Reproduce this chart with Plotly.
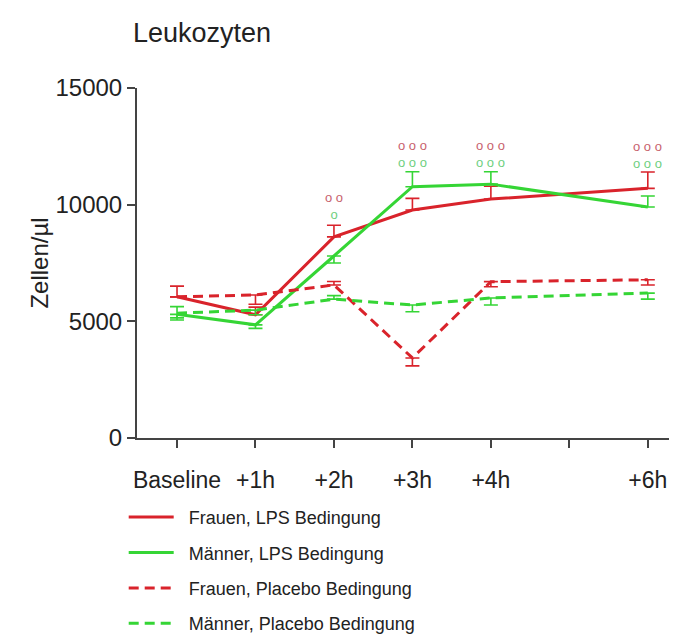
import plotly.graph_objects as go

# ---- data ----
hours = [0, 1, 2, 3, 4, 6]
tick_vals = [0, 1, 2, 3, 4, 5, 6]
tick_text = ["Baseline", "+1h", "+2h", "+3h", "+4h", "", "+6h"]

frauen_lps = [6050, 5280, 8620, 9770, 10240, 10700]
frauen_lps_up = [460, 330, 500, 500, 550, 700]
frauen_lps_dn = [0, 0, 0, 0, 0, 0]

maenner_lps = [5300, 4850, 7800, 10770, 10880, 9900]
maenner_lps_up = [0, 0, 0, 640, 530, 470]
maenner_lps_dn = [240, 150, 300, 0, 0, 0]

frauen_pla = [6050, 6130, 6560, 3430, 6700, 6780]
frauen_pla_up = [0, 0, 150, 0, 0, 0]
frauen_pla_dn = [0, 400, 0, 340, 220, 220]

maenner_pla = [5350, 5480, 5950, 5700, 6000, 6210]
maenner_pla_up = [280, 0, 150, 0, 0, 0]
maenner_pla_dn = [200, 200, 0, 290, 300, 260]

names = ["Frauen, LPS Bedingung", "Männer, LPS Bedingung",
         "Frauen, Placebo Bedingung", "Männer, Placebo Bedingung"]

# significance labels (Frauen row above, Männer row below)
sig_x = [2, 3, 4, 6]
sig_y = [9930, 12170, 12170, 12120]
sig_frauen = ["o o", "o o o", "o o o", "o o o"]
sig_maenner = ["o", "o o o", "o o o", "o o o"]

RED = "#d9232b"
GREEN = "#35d535"
SIG_RED = "#c8626e"
SIG_GREEN = "#6fcf7f"
FONT = "Liberation Sans, Arial, sans-serif"

series = [
    (frauen_lps, frauen_lps_up, frauen_lps_dn, RED, "solid"),
    (maenner_lps, maenner_lps_up, maenner_lps_dn, GREEN, "solid"),
    (frauen_pla, frauen_pla_up, frauen_pla_dn, RED, "10px,6px"),
    (maenner_pla, maenner_pla_up, maenner_pla_dn, GREEN, "10px,6px"),
]

fig = go.Figure()
for i, (vals, up, dn, col, dash) in enumerate(series):
    fig.add_trace(go.Scatter(
        x=hours, y=vals, mode="lines", name="&nbsp;&nbsp;" + names[i],
        legendgroup=f"g{i}",
        line=dict(color=col, width=3, dash=dash),
        error_y=dict(type="data", symmetric=False, array=up, arrayminus=dn,
                     color=col, thickness=1.6, width=7),
    ))

for x, y, tf, tm in zip(sig_x, sig_y, sig_frauen, sig_maenner):
    txt = (f"<span style='color:{SIG_RED}'>{tf}</span><br>"
           f"<span style='color:{SIG_GREEN}'>{tm}</span>")
    fig.add_annotation(x=x, y=y, text=txt, showarrow=False, xref="x", yref="y",
                       font=dict(family=FONT, size=13))

fig.update_layout(
    width=686, height=638,
    paper_bgcolor="white", plot_bgcolor="white",
    margin=dict(l=137, r=17, t=88, b=200, autoexpand=False),
    font=dict(family=FONT, color="#222"),
    title=dict(text="Leukozyten", xref="container", yref="container",
               x=133 / 686, xanchor="left", y=1 - 33 / 638, yanchor="middle",
               font=dict(size=27, color="#222", family=FONT)),
    showlegend=True,
    legend=dict(x=-0.025, xanchor="left", y=-0.174, yanchor="top",
                font=dict(size=18, color="#222", family=FONT),
                tracegroupgap=9, itemwidth=45, bgcolor="rgba(0,0,0,0)"),
)

fig.update_xaxes(range=[-0.51, 6.27], tickmode="array", tickvals=tick_vals,
                 ticktext=tick_text, showgrid=False, zeroline=False,
                 showline=True, linecolor="#444", linewidth=2,
                 ticks="outside", ticklen=8, tickwidth=2, tickcolor="#444",
                 ticklabelstandoff=12,
                 tickfont=dict(size=23, color="#222", family=FONT))
fig.update_yaxes(range=[0, 15000], tickvals=[0, 5000, 10000, 15000],
                 tickformat="d",
                 showgrid=False, zeroline=False,
                 showline=True, linecolor="#444", linewidth=2,
                 ticks="outside", ticklen=8, tickwidth=2, tickcolor="#444",
                 tickfont=dict(size=24, color="#222", family=FONT),
                 title=dict(text="Zellen/µl", standoff=0,
                            font=dict(size=24, color="#222", family=FONT)))

fig.write_html("out.html")
